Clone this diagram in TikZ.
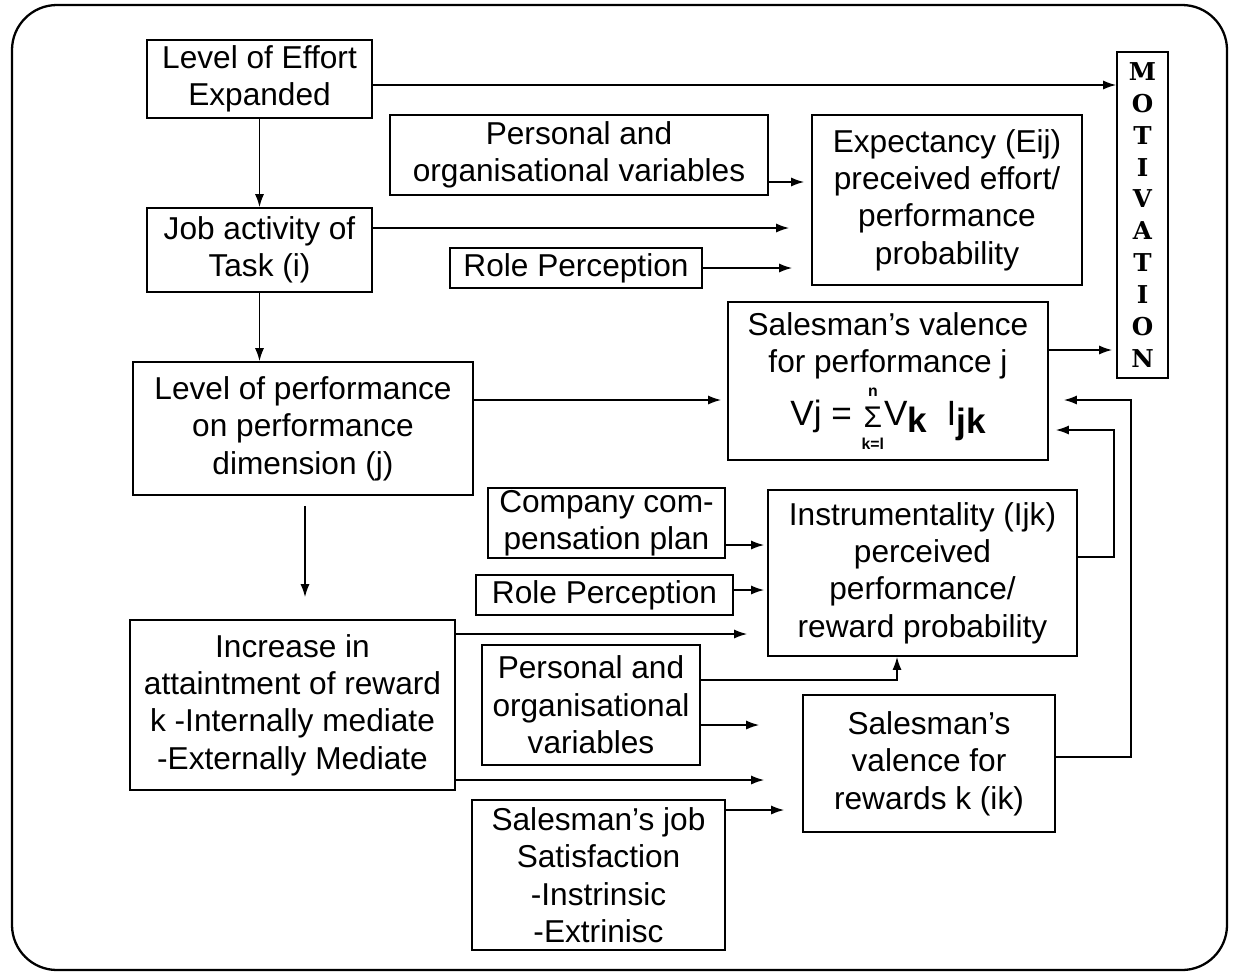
\documentclass[tikz,border=0pt]{standalone}
\usepackage{fontspec}
\setmainfont{Liberation Sans}
\newfontfamily\motivfont{DejaVu Serif}
\usetikzlibrary{arrows.meta}
\newcommand\limfont{\fontsize{9}{9}\selectfont\bfseries}
\begin{document}
\begin{tikzpicture}[
    blk/.style={draw, line width=.9pt, align=center, inner sep=0pt,
      font=\fontsize{18}{21.3}\selectfont},
    arr/.style={-{Latex[length=.26cm,width=.18cm]}, line width=.9pt}]
  \useasboundingbox (0,0) rectangle (24.72,-19.48);
  \draw[line width=1.3pt, rounded corners=.9cm] (0.24,-0.10) rectangle (24.54,-19.40);
  \node[blk, minimum width=4.5cm, minimum height=1.56cm] (effort) at (5.19,-1.58) {Level of Effort\\Expanded};
  \node[blk, minimum width=1.02cm, minimum height=6.52cm,
    font=\motivfont\bfseries\fontsize{14}{18.2}\selectfont] (motiv) at (22.85,-4.30)
    {M\\O\\T\\I\\V\\A\\T\\I\\O\\N};
  \node[blk, minimum width=7.56cm, minimum height=1.6cm] (po1) at (11.58,-3.10) {Personal and\\organisational variables};
  \node[blk, minimum width=5.4cm, minimum height=3.4cm] (expect) at (18.94,-4.00)
    {Expectancy (Eij)\\preceived effort/\\performance\\probability};
  \node[blk, minimum width=4.5cm, minimum height=1.68cm] (job) at (5.19,-5.00) {Job activity of\\Task (i)};
  \node[blk, minimum width=5.04cm, minimum height=.8cm] (rp1) at (11.52,-5.36) {Role Perception};
  \node[blk, minimum width=6.4cm, minimum height=3.16cm] (svp) at (17.76,-7.62)
    {Salesman's valence\\for performance j\\[4pt]
     {\fontsize{20}{24}\selectfont Vj = \raisebox{-1.3ex}{\shortstack{{\limfont n}\\[3pt]{\fontsize{17}{17}\selectfont Σ}\\[3pt]{\limfont k=l}}}V\raisebox{-.35ex}{\bfseries k}\ \ I\raisebox{-.45ex}{\bfseries jk}}};
  \node[blk, minimum width=6.8cm, minimum height=2.66cm] (perf) at (6.06,-8.57)
    {Level of performance\\on performance\\dimension (j)};
  \node[blk, minimum width=4.74cm, minimum height=1.4cm] (ccp) at (12.13,-10.46) {Company com-\\pensation plan};
  \node[blk, minimum width=6.18cm, minimum height=3.32cm] (instr) at (18.45,-11.46)
    {Instrumentality (Ijk)\\perceived\\performance/\\reward probability};
  \node[blk, minimum width=5.14cm, minimum height=.8cm] (rp2) at (12.09,-11.90) {Role Perception};
  \node[blk, minimum width=6.5cm, minimum height=3.4cm] (incr) at (5.85,-14.10)
    {Increase in\\attaintment of reward\\k -Internally mediate\\-Externally Mediate};
  \node[blk, minimum width=4.36cm, minimum height=2.4cm] (po2) at (11.82,-14.10)
    {Personal and\\organisational\\variables};
  \node[blk, minimum width=5.04cm, minimum height=2.74cm] (svr) at (18.58,-15.27)
    {Salesman's\\valence for\\rewards k (ik)};
  \node[blk, minimum width=5.06cm, minimum height=3.0cm] (sjs) at (11.97,-17.50)
    {Salesman's job\\Satisfaction\\-Instrinsic\\-Extrinisc};
  \begin{scope}[arr]
    \draw ([yshift=-.12cm]effort.east) -- ([yshift=-.12cm]effort.east -| motiv.west);
    \draw[shorten >=.14cm] ([yshift=-.54cm]po1.east) -- ([yshift=-.54cm]po1.east -| expect.west);
    \draw (effort.south) -- (job.north);
    \draw[shorten >=.44cm] ([yshift=.44cm]job.east) -- ([yshift=.44cm]job.east -| expect.west);
    \draw[shorten >=.38cm] (rp1.east) -- (rp1.east -| expect.west);
    \draw (job.south) -- (job.south |- perf.north);
    \draw[shorten >=.12cm] ([yshift=.57cm]perf.east) -- ([yshift=.57cm]perf.east -| svp.west);
    \draw[shorten >=.08cm] ([yshift=.62cm]svp.east) -- ([yshift=.62cm]svp.east -| motiv.west);
    \draw[shorten <=.2cm, shorten >=.44cm] ([xshift=.04cm]perf.south) -- ([xshift=.04cm]perf.south |- incr.north);
    \draw[shorten >=.06cm] ([yshift=-.44cm]ccp.east) -- ([yshift=-.44cm]ccp.east -| instr.west);
    \draw[shorten >=.06cm] ([yshift=.1cm]rp2.east) -- ([yshift=.1cm]rp2.east -| instr.west);
    \draw[shorten >=.4cm] ([yshift=1.42cm]incr.east) -- ([yshift=1.42cm]incr.east -| instr.west);
    \draw ([yshift=.5cm]po2.east) -| ([xshift=-.51cm]instr.south);
    \draw[shorten >=.86cm] ([yshift=-.4cm]po2.east) -- ([yshift=-.4cm]po2.east -| svr.west);
    \draw[shorten >=.76cm] ([yshift=-1.5cm]incr.east) -- ([yshift=-1.5cm]incr.east -| svr.west);
    \draw[shorten >=.36cm] ([yshift=1.3cm]sjs.east) -- ([yshift=1.3cm]sjs.east -| svr.west);
    \draw[shorten >=.3cm] ([yshift=.13cm]svr.east) -- ++(1.5,0) |- ([yshift=-.38cm]svp.east);
    \draw[shorten >=.14cm] ([yshift=.32cm]instr.east) -- ++(.72,0) |- ([yshift=-.98cm]svp.east);
  \end{scope}
\end{tikzpicture}
\end{document}
